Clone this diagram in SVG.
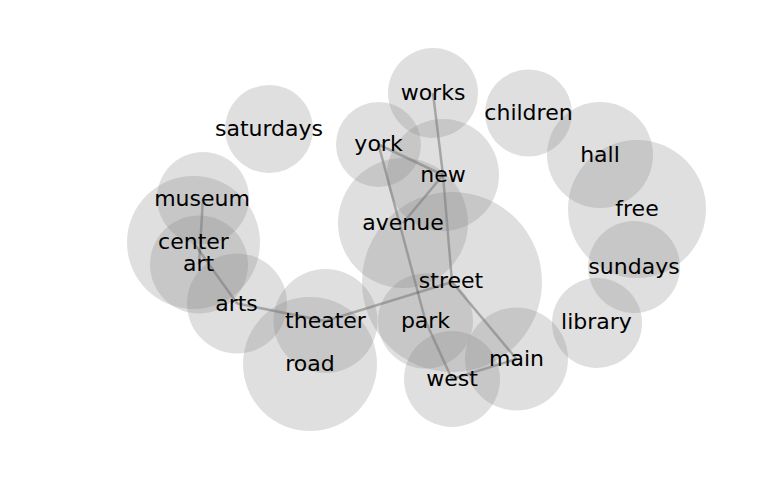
<svg xmlns="http://www.w3.org/2000/svg" width="768" height="500" viewBox="0 0 768 500">
<style>
.node circle { fill: #808080; fill-opacity: 0.25; stroke: none; }
.label { font-family: "DejaVu Sans", sans-serif; font-size: 22px; fill: #000; text-anchor: middle; }
.edge { stroke: #000; stroke-opacity: 0.3; stroke-width: 2.5; fill: none; }
</style>
<rect width="768" height="500" fill="#fff"/>
<g id="connectors">
<line class="edge" x1="433" y1="93" x2="443" y2="175"/>
<line class="edge" x1="378.5" y1="144.5" x2="443" y2="175"/>
<line class="edge" x1="443" y1="175" x2="403" y2="223"/>
<line class="edge" x1="443" y1="175" x2="452" y2="282"/>
<line class="edge" x1="378.5" y1="144.5" x2="425.5" y2="321"/>
<line class="edge" x1="425.5" y1="321" x2="452" y2="379"/>
<line class="edge" x1="452" y1="282" x2="516.5" y2="359"/>
<line class="edge" x1="516.5" y1="359" x2="452" y2="379"/>
<line class="edge" x1="452" y1="282" x2="325.5" y2="321"/>
<line class="edge" x1="325.5" y1="321" x2="237" y2="303.5"/>
<line class="edge" x1="237" y1="303.5" x2="193.5" y2="242.5"/>
<line class="edge" x1="203" y1="198" x2="199" y2="264.5"/>
</g>
<g id="nodes">
<g id="node-works" class="node"><circle cx="433" cy="93" r="45"/></g>
<g id="node-children" class="node"><circle cx="528.5" cy="113" r="43.5"/></g>
<g id="node-york" class="node"><circle cx="378.5" cy="144.5" r="42.5"/></g>
<g id="node-new" class="node"><circle cx="443" cy="175" r="56"/></g>
<g id="node-avenue" class="node"><circle cx="403" cy="223" r="65"/></g>
<g id="node-street" class="node"><circle cx="452" cy="282" r="90"/></g>
<g id="node-park" class="node"><circle cx="425.5" cy="321" r="47.5"/></g>
<g id="node-west" class="node"><circle cx="452" cy="379" r="48"/></g>
<g id="node-main" class="node"><circle cx="516.5" cy="359" r="51.5"/></g>
<g id="node-library" class="node"><circle cx="597" cy="323" r="45"/></g>
<g id="node-sundays" class="node"><circle cx="634" cy="267" r="46"/></g>
<g id="node-free" class="node"><circle cx="637" cy="209" r="69"/></g>
<g id="node-hall" class="node"><circle cx="600" cy="155" r="53"/></g>
<g id="node-saturdays" class="node"><circle cx="269" cy="129" r="44"/></g>
<g id="node-museum" class="node"><circle cx="203" cy="198" r="46"/></g>
<g id="node-center" class="node"><circle cx="193.5" cy="242.5" r="66.5"/></g>
<g id="node-art" class="node"><circle cx="199" cy="264.5" r="49"/></g>
<g id="node-arts" class="node"><circle cx="237" cy="303.5" r="50"/></g>
<g id="node-theater" class="node"><circle cx="325.5" cy="321" r="52"/></g>
<g id="node-road" class="node"><circle cx="310" cy="364" r="67"/></g>
</g>
<g id="labels">
<text class="label" x="433" y="100">works</text>
<text class="label" x="528.5" y="120">children</text>
<text class="label" x="378.5" y="150.5">york</text>
<text class="label" x="443" y="182">new</text>
<text class="label" x="403" y="229.5">avenue</text>
<text class="label" x="451" y="288">street</text>
<text class="label" x="425.5" y="328">park</text>
<text class="label" x="452" y="385.5">west</text>
<text class="label" x="516.5" y="365.5">main</text>
<text class="label" x="596.5" y="329">library</text>
<text class="label" x="634" y="273.5">sundays</text>
<text class="label" x="637" y="216">free</text>
<text class="label" x="600" y="162">hall</text>
<text class="label" x="269" y="136">saturdays</text>
<text class="label" x="202" y="205.5">museum</text>
<text class="label" x="193.5" y="249">center</text>
<text class="label" x="198.5" y="271">art</text>
<text class="label" x="236.5" y="310.5">arts</text>
<text class="label" x="325.5" y="328">theater</text>
<text class="label" x="310" y="371">road</text>
</g>
</svg>
